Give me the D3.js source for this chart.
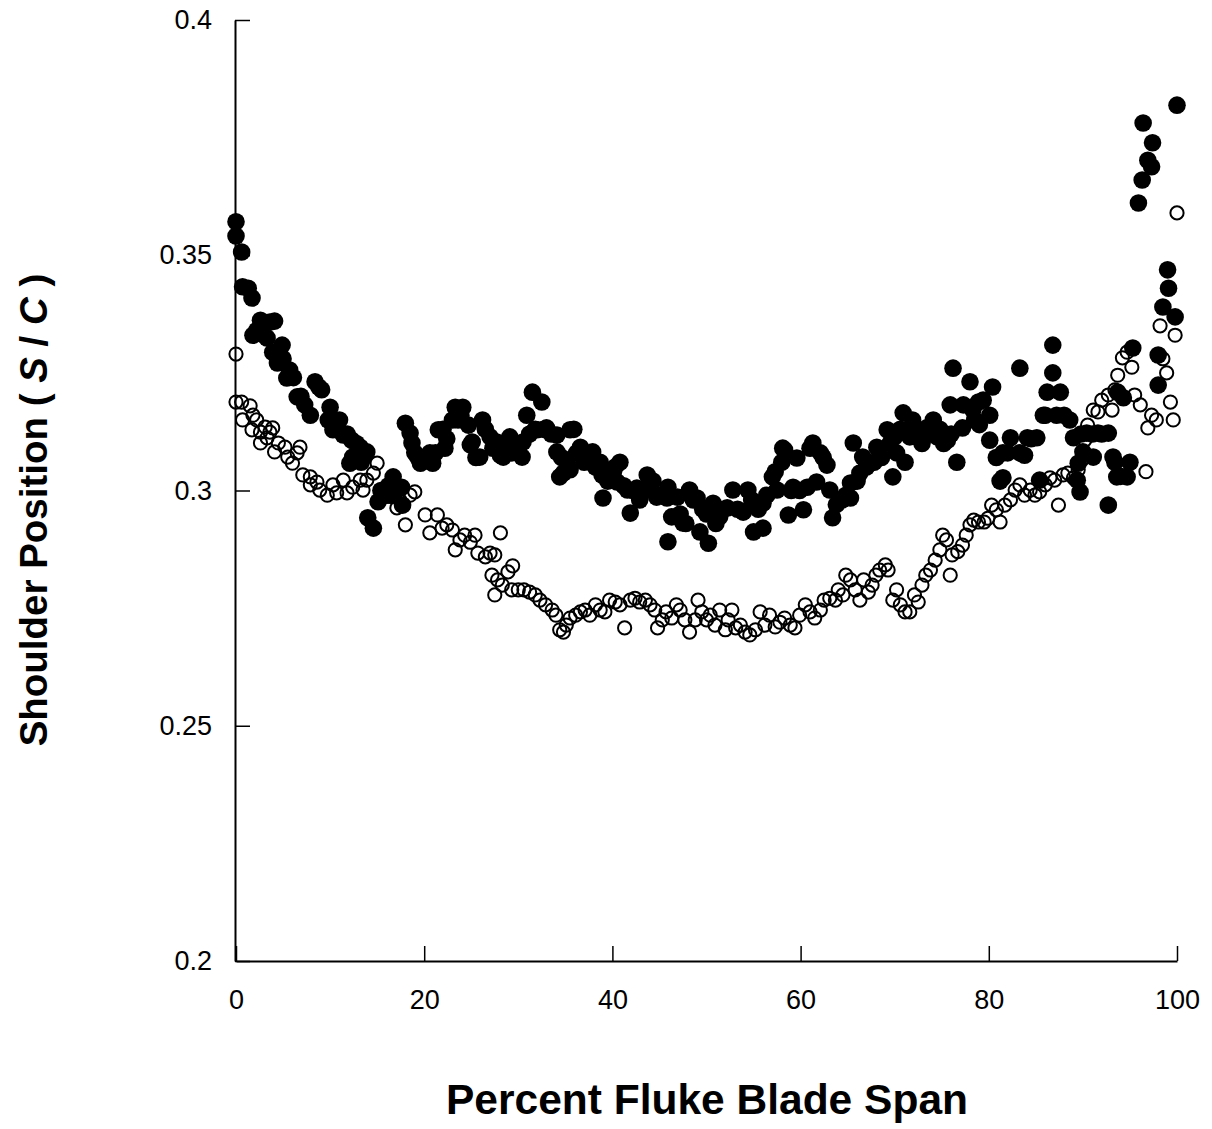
<!DOCTYPE html>
<html>
<head>
<meta charset="utf-8">
<script src="https://cdn.jsdelivr.net/npm/d3@7"></script>
<style>
  html, body { margin: 0; padding: 0; background: #fff; }
  svg { display: block; font-family: "Liberation Sans", Arial, sans-serif; }
</style>
</head>
<body>
<svg id="chart" width="1212" height="1129"></svg>
<script>
// ---- Data ----
// Filled circles series: [percent span, S/C]
const filledX = [0.0,0.0,0.6,0.7,1.3,1.7,1.8,2.2,2.6,3.0,3.3,3.6,3.9,4.1,4.4,4.9,5.0,5.4,5.7,6.1,6.5,6.9,7.3,7.9,8.4,8.8,9.1,9.8,10.0,10.3,10.6,10.8,11.0,11.4,11.8,12.1,12.3,12.4,12.8,13.2,13.3,13.5,13.9,14.0,14.6,15.1,15.4,15.6,16.0,16.2,16.4,16.7,17.0,17.6,17.7,18.0,18.5,18.7,19.0,19.3,19.6,20.2,20.6,20.9,21.2,21.5,22.0,22.2,22.4,23.0,23.3,23.6,23.9,24.1,24.7,24.9,25.1,25.5,25.9,26.2,26.5,27.0,27.3,27.7,28.1,28.4,28.7,29.1,29.3,29.6,30.0,30.4,30.5,30.9,31.2,31.5,31.8,32.0,32.5,32.7,33.0,33.5,34.1,34.1,34.4,34.6,34.8,35.2,35.5,35.5,35.9,36.2,36.6,37.0,37.4,37.9,38.2,38.7,38.9,39.0,39.5,40.1,40.3,40.5,40.8,41.2,41.6,41.9,42.2,42.6,42.9,43.2,43.7,44.0,44.3,44.7,45.1,45.8,45.9,45.9,46.3,46.9,47.2,47.5,47.8,48.2,48.6,49.0,49.3,49.6,50.0,50.2,50.7,51.0,51.4,51.8,52.2,52.8,53.3,53.9,54.4,54.8,55.0,55.5,56.0,56.0,56.4,57.0,57.3,57.5,58.0,58.1,58.3,58.7,59.0,59.2,59.6,59.9,60.3,60.7,61.0,61.3,61.7,62.1,62.4,62.8,63.1,63.4,63.8,64.4,64.8,65.3,65.3,65.6,66.0,66.3,66.6,67.0,67.4,67.8,68.1,68.6,69.2,69.5,69.8,70.0,70.2,70.6,70.9,71.1,71.6,71.9,72.2,72.5,72.9,73.4,73.8,74.1,74.5,74.8,75.2,75.6,75.9,76.0,76.2,76.6,77.2,77.3,78.0,78.3,78.5,78.9,79.0,79.4,80.1,80.1,80.4,80.8,81.2,81.5,81.5,82.0,82.3,83.3,83.3,83.8,84.1,84.5,85.1,85.4,85.8,86.0,86.2,86.8,86.8,87.2,87.6,88.0,88.6,89.0,89.4,89.5,89.7,89.8,90.0,90.4,91.0,91.1,91.6,92.0,92.7,92.7,93.2,93.4,93.6,93.7,94.0,94.3,94.7,95.0,95.3,95.9,96.3,96.4,96.9,97.3,97.4,98.0,98.0,98.5,99.0,99.1,99.8,100.0];
const filledY = [0.3571,0.3541,0.3507,0.3433,0.3430,0.3409,0.3330,0.3340,0.3362,0.3330,0.3324,0.3358,0.3294,0.3360,0.3271,0.3309,0.3280,0.3239,0.3256,0.3240,0.3199,0.3200,0.3182,0.3160,0.3231,0.3220,0.3214,0.3150,0.3177,0.3129,0.3130,0.3146,0.3150,0.3118,0.3120,0.3058,0.3107,0.3071,0.3100,0.3092,0.3060,0.3069,0.3082,0.2942,0.2920,0.2976,0.3000,0.2995,0.2990,0.3010,0.2990,0.3029,0.3000,0.3007,0.2969,0.3143,0.3122,0.3101,0.3080,0.3071,0.3058,0.3070,0.3080,0.3058,0.3080,0.3129,0.3130,0.3090,0.3110,0.3150,0.3177,0.3150,0.3160,0.3177,0.3139,0.3097,0.3103,0.3070,0.3071,0.3150,0.3130,0.3114,0.3090,0.3103,0.3075,0.3071,0.3100,0.3114,0.3080,0.3090,0.3090,0.3071,0.3103,0.3160,0.3120,0.3209,0.3130,0.3129,0.3188,0.3130,0.3133,0.3120,0.3118,0.3082,0.3029,0.3070,0.3037,0.3060,0.3129,0.3044,0.3130,0.3080,0.3092,0.3060,0.3070,0.3082,0.3050,0.3060,0.3033,0.2984,0.3020,0.3039,0.3050,0.3018,0.3060,0.3010,0.3001,0.2952,0.3000,0.3005,0.2980,0.3000,0.3033,0.3005,0.3020,0.2986,0.2990,0.2984,0.3007,0.2891,0.2944,0.2986,0.2950,0.2931,0.2930,0.3001,0.2980,0.2984,0.2912,0.2960,0.2950,0.2888,0.2973,0.2930,0.2944,0.2960,0.2963,0.3001,0.2960,0.2954,0.3001,0.2980,0.2912,0.2960,0.2920,0.2973,0.2990,0.3029,0.3040,0.3001,0.3060,0.3090,0.3086,0.2948,0.3000,0.3007,0.3069,0.3000,0.2959,0.3007,0.3090,0.3101,0.3018,0.3080,0.3070,0.3054,0.3001,0.2942,0.2970,0.2980,0.2990,0.2984,0.3016,0.3101,0.3020,0.3037,0.3071,0.3050,0.3058,0.3060,0.3092,0.3070,0.3129,0.3100,0.3029,0.3114,0.3080,0.3130,0.3165,0.3060,0.3114,0.3150,0.3130,0.3112,0.3100,0.3133,0.3120,0.3150,0.3114,0.3130,0.3100,0.3107,0.3182,0.3120,0.3260,0.3060,0.3133,0.3182,0.3231,0.3171,0.3150,0.3188,0.3140,0.3192,0.3160,0.3107,0.3220,0.3070,0.3020,0.3080,0.3027,0.3080,0.3112,0.3080,0.3260,0.3075,0.3112,0.3110,0.3112,0.3022,0.3160,0.3160,0.3209,0.3309,0.3250,0.3160,0.3209,0.3160,0.3150,0.3112,0.3022,0.3058,0.2997,0.3120,0.3082,0.3122,0.3120,0.3071,0.3122,0.3120,0.3122,0.2969,0.3071,0.3060,0.3029,0.3209,0.3030,0.3197,0.3029,0.3060,0.3303,0.3611,0.3660,0.3781,0.3702,0.3688,0.3739,0.3288,0.3224,0.3390,0.3469,0.3430,0.3369,0.3819];

// Open circles series: [percent span, S/C]
const openX = [0.0,0.0,0.6,1.5,0.7,1.8,2.2,1.7,2.6,3.1,3.6,3.9,2.6,3.3,4.5,5.2,4.1,5.5,6.8,6.0,6.5,7.1,7.9,7.9,8.6,8.9,9.7,10.3,10.7,11.4,11.8,12.4,13.2,13.5,13.9,14.6,15.0,16.9,17.4,18.0,17.1,18.5,19.0,20.1,20.6,21.4,21.9,22.4,23.0,23.3,23.8,24.3,24.9,25.4,25.7,26.5,27.0,27.5,28.1,27.2,27.8,27.5,28.3,28.9,29.3,30.0,29.4,30.6,31.2,31.8,32.3,32.9,33.6,34.0,34.4,34.8,35.1,35.5,36.1,36.6,37.1,37.6,38.2,38.7,39.2,39.7,40.3,40.8,41.3,41.9,42.4,42.9,43.5,44.0,44.5,44.8,45.3,45.7,46.3,46.8,47.2,47.7,48.2,48.8,49.1,49.5,50.0,50.4,50.9,51.4,52.0,52.3,52.7,53.1,53.6,54.1,54.6,55.2,55.7,56.2,56.7,57.3,57.8,58.3,58.9,59.4,59.9,60.5,61.0,61.5,62.1,62.5,63.1,63.7,64.0,64.5,64.8,65.3,65.8,66.3,66.7,67.2,67.6,68.0,68.4,69.0,69.3,69.8,70.2,70.6,71.1,71.6,72.1,72.5,72.9,73.3,73.8,74.3,74.8,75.1,75.5,75.9,76.1,76.7,77.2,77.6,78.0,78.4,78.9,79.5,79.9,80.3,80.8,81.2,81.7,82.3,82.8,83.3,83.8,84.4,84.9,85.4,86.0,86.5,87.0,87.4,87.9,88.4,89.0,89.5,89.9,90.2,90.5,91.1,91.6,92.0,92.7,93.1,93.4,93.7,94.2,94.7,95.2,95.5,96.1,96.7,96.9,97.3,97.8,98.2,98.5,98.9,99.3,99.6,99.8,100.0];
const openY = [0.3290,0.3188,0.3188,0.3180,0.3150,0.3160,0.3150,0.3129,0.3124,0.3135,0.3124,0.3133,0.3101,0.3112,0.3101,0.3092,0.3082,0.3071,0.3092,0.3058,0.3080,0.3033,0.3029,0.3012,0.3018,0.3001,0.2990,0.3012,0.2995,0.3022,0.2995,0.3007,0.3022,0.3001,0.3022,0.3037,0.3058,0.2990,0.2980,0.2927,0.2963,0.2990,0.2997,0.2948,0.2910,0.2948,0.2920,0.2927,0.2916,0.2874,0.2895,0.2905,0.2890,0.2905,0.2867,0.2859,0.2867,0.2863,0.2910,0.2820,0.2810,0.2778,0.2799,0.2827,0.2789,0.2789,0.2840,0.2789,0.2784,0.2778,0.2767,0.2757,0.2746,0.2735,0.2704,0.2699,0.2714,0.2729,0.2735,0.2742,0.2746,0.2735,0.2757,0.2746,0.2742,0.2767,0.2763,0.2757,0.2708,0.2767,0.2771,0.2763,0.2767,0.2757,0.2746,0.2708,0.2725,0.2742,0.2729,0.2757,0.2746,0.2725,0.2699,0.2725,0.2767,0.2742,0.2725,0.2735,0.2714,0.2746,0.2704,0.2725,0.2746,0.2708,0.2714,0.2699,0.2693,0.2704,0.2742,0.2714,0.2735,0.2710,0.2720,0.2729,0.2714,0.2708,0.2735,0.2757,0.2742,0.2729,0.2746,0.2767,0.2771,0.2767,0.2789,0.2778,0.2820,0.2810,0.2789,0.2767,0.2810,0.2784,0.2799,0.2820,0.2831,0.2842,0.2831,0.2767,0.2789,0.2757,0.2742,0.2742,0.2778,0.2763,0.2799,0.2820,0.2831,0.2852,0.2874,0.2905,0.2895,0.2820,0.2863,0.2870,0.2884,0.2905,0.2927,0.2937,0.2933,0.2933,0.2941,0.2969,0.2959,0.2933,0.2969,0.2980,0.3001,0.3012,0.2990,0.3001,0.2990,0.2997,0.3012,0.3027,0.3022,0.2969,0.3033,0.3037,0.3027,0.3044,0.3065,0.3107,0.3139,0.3171,0.3167,0.3192,0.3203,0.3171,0.3214,0.3245,0.3282,0.3294,0.3262,0.3203,0.3182,0.3040,0.3133,0.3160,0.3150,0.3350,0.3280,0.3250,0.3188,0.3150,0.3330,0.3590];

const xTicks = [0, 20, 40, 60, 80, 100];
const xTickLabels = ["0", "20", "40", "60", "80", "100"];
const yTicks = [0.2, 0.25, 0.3, 0.35, 0.4];
const yTickLabels = ["0.2", "0.25", "0.3", "0.35", "0.4"];

const xTitle = "Percent Fluke Blade Span";
const yTitleParts = [["Shoulder Position ( ", "normal"], ["S", "italic"], [" / ", "normal"], ["C", "italic"], [" )", "normal"]];

// ---- Chart ----
const svg = d3.select("#chart");
const x = d3.scaleLinear().domain([0, 100]).range([236, 1177]);
const y = d3.scaleLinear().domain([0.2, 0.4]).range([961, 20]);

const filled = filledX.map((v, i) => ({ x: v, y: filledY[i] }));
const open = openX.map((v, i) => ({ x: v, y: openY[i] }));

svg.append("g").selectAll("circle").data(filled).join("circle")
  .attr("cx", d => x(d.x)).attr("cy", d => y(d.y)).attr("r", 8.8)
  .attr("fill", "#000");

svg.append("g").selectAll("circle").data(open).join("circle")
  .attr("cx", d => x(d.x)).attr("cy", d => y(d.y)).attr("r", 6.6)
  .attr("fill", "none").attr("stroke", "#000").attr("stroke-width", 2);

const xAxis = d3.axisBottom(x).tickValues(xTicks)
  .tickFormat((d, i) => xTickLabels[i]).tickSizeInner(-15).tickSizeOuter(0).tickPadding(29);
const yAxis = d3.axisLeft(y).tickValues(yTicks)
  .tickFormat((d, i) => yTickLabels[i]).tickSizeInner(-15).tickSizeOuter(0).tickPadding(23);

const gx = svg.append("g").attr("transform", "translate(0,961)").call(xAxis);
const gy = svg.append("g").attr("transform", "translate(235,0)").call(yAxis);

[gx, gy].forEach(g => {
  g.select(".domain").attr("stroke", "#000").attr("stroke-width", 2);
  g.selectAll(".tick line").attr("stroke", "#000").attr("stroke-width", 1.5);
  g.selectAll(".tick text").attr("fill", "#000")
    .style("font-family", '"Liberation Sans", Arial, sans-serif').style("font-size", "27px");
});

svg.append("text")
  .attr("x", 707).attr("y", 1114)
  .attr("text-anchor", "middle")
  .style("font-size", "42.5px").style("font-weight", "bold")
  .text(xTitle);

const yt = svg.append("text")
  .attr("transform", "translate(47,510) rotate(-90)")
  .attr("text-anchor", "middle")
  .style("font-size", "38.5px").style("font-weight", "bold");
yTitleParts.forEach(([t, s]) => yt.append("tspan").style("font-style", s).text(t));
</script>
</body>
</html>
